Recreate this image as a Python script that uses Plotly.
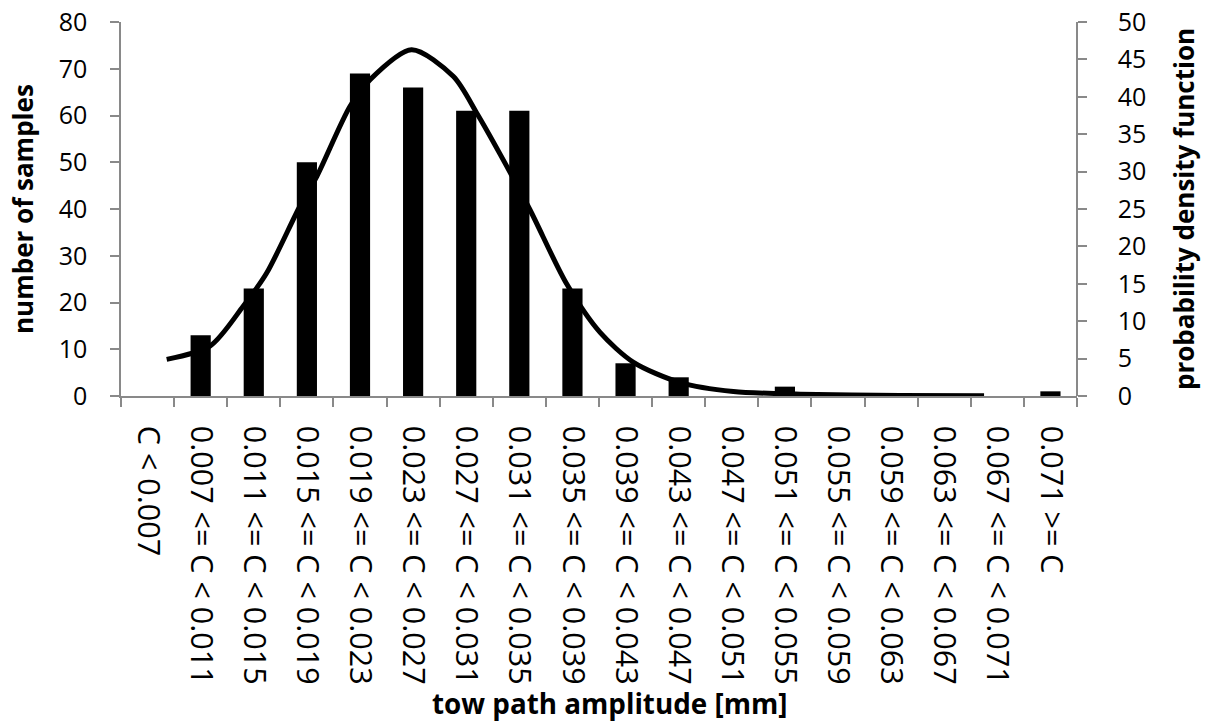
import plotly.graph_objects as go

categories = ["C < 0.007", "0.007 <= C < 0.011", "0.011 <= C < 0.015", "0.015 <= C < 0.019",
              "0.019 <= C < 0.023", "0.023 <= C < 0.027", "0.027 <= C < 0.031", "0.031 <= C < 0.035",
              "0.035 <= C < 0.039", "0.039 <= C < 0.043", "0.043 <= C < 0.047", "0.047 <= C < 0.051",
              "0.051 <= C < 0.055", "0.055 <= C < 0.059", "0.059 <= C < 0.063", "0.063 <= C < 0.067",
              "0.067 <= C < 0.071", "0.071 >= C"]
counts = [0, 13, 23, 50, 69, 66, 61, 61, 23, 7, 4, 0, 2, 0, 0, 0, 0, 1]

# pdf curve (x in category-index units)
pdf_x = [0.36, 1.18, 1.80, 2.24, 2.87, 3.19, 3.81, 4.19, 4.97, 5.76, 6.20, 6.64, 7.20,
         7.89, 8.52, 9.15, 10.03, 11.03, 12.29, 14.17, 15.75]
pdf_y = [4.9, 6.7, 12.0, 16.4, 25.4, 29.4, 38.7, 42.3, 46.3, 42.7, 37.8, 32.3, 24.9,
         15.0, 8.5, 4.5, 1.8, 0.6, 0.25, 0.08, 0.03]

x_title = "tow path amplitude [mm]"
y_title = "number of samples"
y2_title = "probability density function"

FONT = "Open Sans"
AX = "#898989"
NB = "\u00a0"

fig = go.Figure()
fig.add_trace(go.Bar(x=categories, y=counts, width=0.38, marker=dict(color="black", line=dict(width=0)),
                     showlegend=False))
fig.add_trace(go.Scatter(x=pdf_x, y=pdf_y, xaxis="x2", yaxis="y2", mode="lines",
                         line=dict(color="black", width=5, shape="spline", smoothing=0.8),
                         showlegend=False))

fig.update_layout(
    width=1206, height=722,
    margin=dict(l=121, r=129, t=22, b=326, autoexpand=False),
    plot_bgcolor="white", paper_bgcolor="white",
    font=dict(family=FONT, color="black"),
    xaxis=dict(type="category", tickson="boundaries", ticks="outside", ticklen=9, tickcolor=AX,
               tickwidth=1.5, showline=True, linecolor=AX, linewidth=1.5, showgrid=False,
               tickangle=90, tickfont=dict(size=30.5, family=FONT), ticklabelstandoff=22,
               range=[-0.5, 17.5], automargin=False),
    xaxis2=dict(overlaying="x", range=[-0.5, 17.5], visible=False),
    yaxis=dict(range=[0, 80], dtick=10, ticks="outside", ticklen=9, tickcolor=AX, tickwidth=1.5,
               showline=True, linecolor=AX, linewidth=1.5, showgrid=False, zeroline=False,
               tickfont=dict(size=25, family=FONT), ticklabelstandoff=18, automargin=False),
    yaxis2=dict(overlaying="y", side="right", anchor="free", position=1, range=[0, 50], dtick=5,
                ticks="outside", ticklen=9, tickcolor=AX, tickwidth=1.5, showline=True, linecolor=AX,
                linewidth=1.5, showgrid=False, zeroline=False, tickfont=dict(size=25, family=FONT),
                tickprefix=NB * 4, automargin=False),
    annotations=[
        dict(text="<b>" + y_title + "</b>", xref="paper", yref="paper", x=-0.1025, y=0.5,
             textangle=-90, showarrow=False, font=dict(size=26, family=FONT),
             xanchor="center", yanchor="middle"),
        dict(text="<b>" + y2_title + "</b>", xref="paper", yref="paper", x=1.112, y=0.5,
             textangle=-90, showarrow=False, font=dict(size=26, family=FONT),
             xanchor="center", yanchor="middle"),
        dict(text="<b>" + x_title + "</b>", xref="paper", yref="paper", x=0.511, y=-0.8209,
             showarrow=False, font=dict(size=27.8, family=FONT),
             xanchor="center", yanchor="middle"),
    ],
)

fig.write_html("out.html")
